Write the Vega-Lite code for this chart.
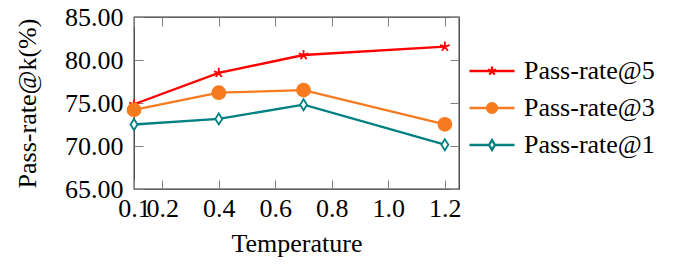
{
  "$schema": "https://vega.github.io/schema/vega-lite/v6.json",
  "autosize": "none",
  "width": 325,
  "height": 172,
  "padding": {"left": 134, "top": 17, "right": 218, "bottom": 79},
  "background": "white",
  "config": {
    "font": "Liberation Serif",
    "view": {"stroke": "#333333", "strokeWidth": 1.3},
    "axis": {"labelFont": "Liberation Serif", "titleFont": "Liberation Serif", "labelColor": "black", "titleColor": "black", "titleFontWeight": "normal", "labelFontSize": 26, "titleFontSize": 26, "domain": false, "ticks": false, "gridColor": "#808080", "gridWidth": 1, "gridOpacity": 1},
    "legend": {"labelFont": "Liberation Serif", "labelFontSize": 26, "labelColor": "black"}
  },
  "data": {
    "values": [
      {"temperature": 0.1, "rate": 74.85, "series": "Pass-rate@5"},
      {"temperature": 0.4, "rate": 78.5, "series": "Pass-rate@5"},
      {"temperature": 0.7, "rate": 80.58, "series": "Pass-rate@5"},
      {"temperature": 1.2, "rate": 81.55, "series": "Pass-rate@5"},
      {"temperature": 0.1, "rate": 74.2, "series": "Pass-rate@3"},
      {"temperature": 0.4, "rate": 76.2, "series": "Pass-rate@3"},
      {"temperature": 0.7, "rate": 76.5, "series": "Pass-rate@3"},
      {"temperature": 1.2, "rate": 72.52, "series": "Pass-rate@3"},
      {"temperature": 0.1, "rate": 72.5, "series": "Pass-rate@1"},
      {"temperature": 0.4, "rate": 73.15, "series": "Pass-rate@1"},
      {"temperature": 0.7, "rate": 74.8, "series": "Pass-rate@1"},
      {"temperature": 1.2, "rate": 70.15, "series": "Pass-rate@1"}
    ]
  },
  "resolve": {
    "scale": {"shape": "independent"},
    "axis": {"x": "independent", "y": "independent"},
    "legend": {"color": "independent", "fill": "independent", "shape": "independent"}
  },
  "layer": [
    {
      "mark": {"type": "line", "strokeWidth": 2.3, "clip": false},
      "encoding": {
        "x": {"field": "temperature", "type": "quantitative", "scale": {"domain": [0.1, 1.25], "nice": false, "zero": false},
              "axis": {"orient": "bottom", "title": "Temperature", "values": [0.1, 0.2, 0.4, 0.6, 0.8, 1.0, 1.2], "format": ".1f", "labelPadding": 6, "labelOverlap": false, "labelFlush": false, "titlePadding": 9, "grid": true, "gridDash": [9, 154, 9, 1000]}},
        "y": {"field": "rate", "type": "quantitative", "scale": {"domain": [65, 85], "nice": false, "zero": false},
              "axis": {"orient": "left", "title": "Pass-rate@k(%)", "values": [65, 70, 75, 80, 85], "format": ".2f", "labelPadding": 11, "labelOverlap": false, "labelFlush": false, "titlePadding": 24, "grid": true, "gridDash": [9, 307, 9, 1000]}},
        "color": {"field": "series", "type": "nominal", "legend": null,
                  "scale": {"domain": ["Pass-rate@5", "Pass-rate@3", "Pass-rate@1"], "range": ["#FF0000", "#F77B1E", "#008080"]}}
      }
    },
    {
      "mark": {"type": "point", "filled": false, "opacity": 1, "size": 144, "strokeWidth": 1.8, "clip": false},
      "encoding": {
        "x": {"field": "temperature", "type": "quantitative", "axis": null},
        "y": {"field": "rate", "type": "quantitative", "axis": null},
        "color": {"field": "series", "type": "nominal", "legend": null},
        "fill": {"field": "series", "type": "nominal", "legend": null,
                 "scale": {"domain": ["Pass-rate@5", "Pass-rate@3", "Pass-rate@1"], "range": ["#FF0000", "#F77B1E", "#FFFFFF"]}},
        "shape": {"field": "series", "type": "nominal", "legend": null,
                  "scale": {"domain": ["Pass-rate@5", "Pass-rate@3", "Pass-rate@1"],
                            "range": [
                              "M0,0L0,-0.85M0,0L0.81,-0.26M0,0L0.5,0.69M0,0L-0.5,0.69M0,0L-0.81,-0.26",
                              "M1.08,0A1.08,1.08,0,1,1,-1.08,0A1.08,1.08,0,1,1,1.08,0Z",
                              "M0,-0.92L0.58,0L0,0.92L-0.58,0Z"
                            ]}}
      }
    },
    {
      "mark": {"type": "point", "filled": false, "strokeWidth": 2.3, "opacity": 0},
      "encoding": {
        "x": {"field": "temperature", "type": "quantitative", "axis": null},
        "y": {"field": "rate", "type": "quantitative", "axis": null},
        "color": {"field": "series", "type": "nominal",
                  "legend": {"title": null, "orient": "none", "legendX": 334, "legendY": 30, "symbolSize": 2025, "symbolStrokeWidth": 2.3, "symbolOpacity": 1, "labelOffset": 8, "rowPadding": -9}},
        "fill": {"field": "series", "type": "nominal",
                 "legend": {"title": null, "orient": "none", "legendX": 334, "legendY": 30, "symbolSize": 2025, "symbolStrokeWidth": 2.3, "symbolOpacity": 1, "labelOffset": 8, "rowPadding": -9}},
        "shape": {"field": "series", "type": "nominal",
                  "scale": {"domain": ["Pass-rate@5", "Pass-rate@3", "Pass-rate@1"],
                            "range": [
                              "M-1,0H1M0,0L0,-0.2M0,0L0.19,-0.062M0,0L0.118,0.162M0,0L-0.118,0.162M0,0L-0.19,-0.062",
                              "M-1,0H1M0.22,0A0.22,0.22,0,1,1,-0.22,0A0.22,0.22,0,1,1,0.22,0Z",
                              "M-1,0H-0.13M0.13,0H1M0,-0.22L0.13,0L0,0.22L-0.13,0Z"
                            ]},
                  "legend": {"title": null, "orient": "none", "legendX": 334, "legendY": 30, "symbolSize": 2025, "symbolStrokeWidth": 2.3, "symbolOpacity": 1, "labelOffset": 8, "rowPadding": -9}}
      }
    }
  ]
}
